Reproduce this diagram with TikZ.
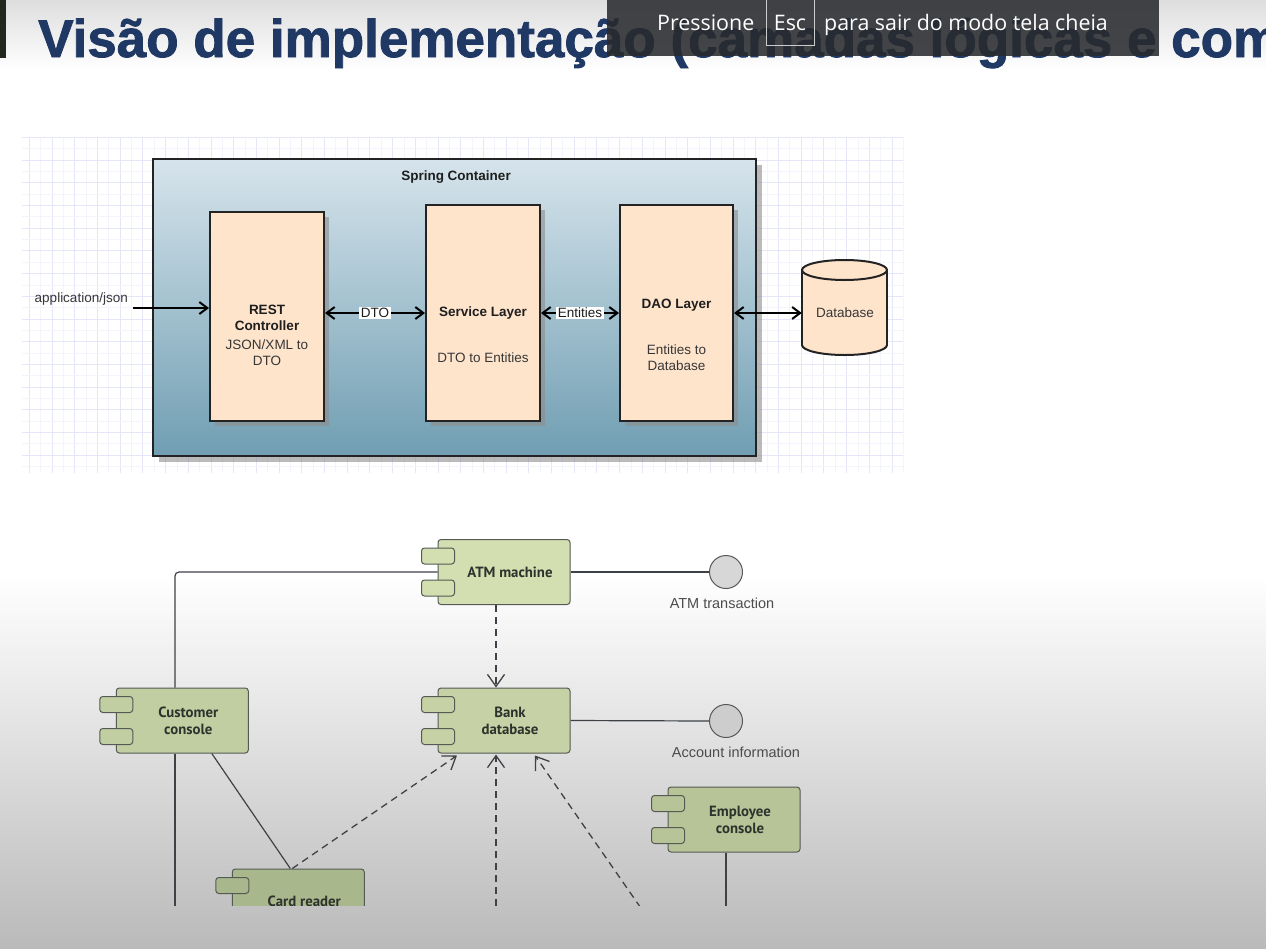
\documentclass[tikz,border=0pt]{standalone}
\usepackage{fontspec}
\setmainfont{Liberation Sans}
\newfontfamily\titlefont[FakeBold=1.6]{Liberation Sans Bold}
\newfontfamily\osfont{Open Sans}
\newfontfamily\ptfont{PT Sans}
\usetikzlibrary{arrows.meta,calc,shadows}
\definecolor{titleblue}{RGB}{31,56,100}
\definecolor{ovl}{RGB}{40,42,46}
\definecolor{gridc}{RGB}{230,230,249}
\definecolor{gridm}{RGB}{244,244,253}
\definecolor{peach}{RGB}{255,228,204}
\definecolor{ctop}{RGB}{214,228,236}
\definecolor{cbot}{RGB}{112,158,178}
\definecolor{edgeD}{RGB}{35,35,35}
\definecolor{txtD}{RGB}{30,30,30}
\definecolor{txtR}{RGB}{55,55,55}
\definecolor{compB}{RGB}{85,90,85}
\definecolor{lineC}{RGB}{62,66,70}
\definecolor{compT}{RGB}{45,50,45}
\definecolor{cATM}{RGB}{211,223,176}
\definecolor{cBank}{RGB}{198,210,165}
\definecolor{cCust}{RGB}{193,206,162}
\definecolor{cEmp}{RGB}{182,196,152}
\definecolor{cCard}{RGB}{169,183,141}
\definecolor{ifA}{RGB}{215,215,215}
\definecolor{ifB}{RGB}{205,205,205}
\definecolor{darkimg}{RGB}{35,40,30}
\definecolor{bgbot}{RGB}{186,186,186}
\definecolor{bgtop}{RGB}{222,222,222}
\newcommand\mkcomp[5]{%
  \node[compbox, fill=#4] (#1) at (#2,#3) {};
  \draw[comptab, fill=#4] ($(#1.north west)+(-16,9)$) rectangle ++(33,16);
  \draw[comptab, fill=#4] ($(#1.north west)+(-16,41)$) rectangle ++(33,16);
  \node[complbl] (#1T) at ($(#1.center)+(6,0)$) {#5};
}
\begin{document}
\begin{tikzpicture}[x=1pt,y=-1pt,
  layerbox/.style={draw=edgeD, line width=2pt, fill=peach, inner sep=0pt,
    drop shadow={shadow xshift=5pt, shadow yshift=-5pt, fill=black!45, opacity=0.6}},
  uarrow/.style={draw=black, line width=2pt, -{Straight Barb[length=8pt,width=12pt]}},
  uarrow2/.style={draw=black, line width=2pt, {Straight Barb[length=8pt,width=12pt]}-{Straight Barb[length=8pt,width=12pt]}},
  ulbl/.style={fill=white, inner sep=1.5pt, font=\fontsize{13.5}{16}\selectfont, text=txtD},
  utb/.style={font=\fontsize{13.5}{16}\selectfont\bfseries, text=txtD, align=center, inner sep=0pt},
  utr/.style={font=\fontsize{13.5}{16}\selectfont, text=txtR, align=center, inner sep=0pt},
  compbox/.style={draw=compB, line width=1pt, rounded corners=3pt, minimum width=132pt, minimum height=65pt, inner sep=0pt},
  comptab/.style={draw=compB, line width=1pt, rounded corners=3pt},
  complbl/.style={font=\ptfont\bfseries\fontsize{14.8}{17}\selectfont, text=compT, align=center, inner sep=0pt},
  iface/.style={circle, draw=compB, line width=1pt, minimum size=33pt, inner sep=0pt},
  iflbl/.style={font=\fontsize{14.5}{17}\selectfont, text=black!70, inner sep=0pt},
  ulink/.style={draw=lineC, line width=1.2pt},
  udep/.style={draw=lineC, line width=1.3pt, dash pattern=on 7pt off 5pt, -{Straight Barb[length=12pt,width=17pt]}},
  ovtext/.style={font=\osfont\fontsize{21.4}{24}\selectfont, text=white, inner sep=0pt}
]
\useasboundingbox (0,0) rectangle (1266,948);
\clip (0,0) rectangle (1266,948);
% background
\fill[white] (0,0) rectangle (1266,948);
\shade[top color=bgtop, bottom color=white] (0,0) rectangle (1266,70);
\shade[top color=white, bottom color=bgbot] (0,575) rectangle (1266,948);
\fill[darkimg] (0,0) rectangle (6,58);
% title
\node[anchor=base west, font=\titlefont\fontsize{53}{60}\selectfont, text=titleblue, inner sep=0pt] (title) at (38,57) {Visão de implementação (camadas lógicas e com};
% overlay
\fill[ovl, opacity=0.87] (607,0) rectangle (1159,56);
\node[anchor=base west, ovtext] (pr) at (657,30) {Pressione};
\node[draw=white!80!black, line width=0.8pt, minimum width=48pt, minimum height=47pt, inner sep=0pt] (escbox) at (790,21.5) {};
\node[anchor=base, ovtext] (esc) at (790,30) {Esc};
\node[anchor=base west, ovtext] (sair) at (824,30) {para sair do modo tela cheia};
% grid
\foreach \i in {0,...,38} {
  \draw[gridm, line width=0.7pt] ({40.65+22.7*\i},137) -- ({40.65+22.7*\i},473);
  \draw[gridc, line width=0.8pt] ({29.3+22.7*\i},137) -- ({29.3+22.7*\i},473);
}
\foreach \j in {0,...,14} {
  \draw[gridm, line width=0.7pt] (22,{148.65+22.7*\j}) -- (903,{148.65+22.7*\j});
  \draw[gridc, line width=0.8pt] (22,{137.3+22.7*\j}) -- (903,{137.3+22.7*\j});
}
% spring container
\node[draw=edgeD, line width=2pt, top color=ctop, bottom color=cbot, minimum width=603pt, minimum height=297pt, inner sep=0pt,
  drop shadow={shadow xshift=6pt, shadow yshift=-6pt, fill=black!45, opacity=0.6}] (cont) at (454.5,307.5) {};
\node[utb] (contT) at (456,177) {Spring Container};
% layers
\node[layerbox, minimum width=114pt, minimum height=209pt] (rest) at (267,316.5) {};
\node[layerbox, minimum width=114pt, minimum height=216pt] (svc) at (483,313) {};
\node[layerbox, minimum width=113pt, minimum height=216pt] (dao) at (676.5,313) {};
\node[utb] (restA) at (267,317.5) {REST\\Controller};
\node[utr] (restB) at (267,353) {JSON/XML to\\DTO};
\node[utb] (svcA) at (483,313) {Service Layer};
\node[utr] (svcB) at (483,358) {DTO to Entities};
\node[utb] (daoA) at (676.5,305) {DAO Layer};
\node[utr] (daoB) at (676.5,358) {Entities to\\Database};
% database cylinder
\node[minimum width=85pt, minimum height=95pt, inner sep=0pt] (db) at (844.5,307.5) {};
\draw[edgeD, line width=2pt, fill=peach] (844.5,345) ellipse [x radius=42.5, y radius=10];
\fill[peach] (802,270) rectangle (887,345);
\draw[edgeD, line width=2pt] (802,270) -- (802,345) (887,270) -- (887,345);
\draw[edgeD, line width=2pt, fill=peach] (844.5,270) ellipse [x radius=42.5, y radius=10];
\node[utr] (dbT) at (845,313) {Database};
% upper arrows
\node[utr, anchor=east] (appl) at (128,299) {application/json};
\coordinate (appin) at (133,308);
\draw[uarrow] (appin) -- (appin -| rest.west);
\draw[uarrow2] (rest.east |- svc.west) -- node[ulbl] (dtoL) {DTO} (svc.west);
\draw[uarrow2] (svc.east) -- node[ulbl] (entL) {Entities} (dao.west);
\draw[uarrow2] (dao.east) -- (dao.east -| db.west);
% lower diagram
\begin{scope}
\clip (0,480) rectangle (1266,905);
\mkcomp{atm}{504}{572}{cATM}{ATM machine}
\mkcomp{bank}{504}{720.5}{cBank}{Bank\\database}
\mkcomp{cust}{182.3}{720.5}{cCust}{Customer\\console}
\mkcomp{emp}{734}{819.5}{cEmp}{Employee\\console}
\mkcomp{card}{298.3}{901.5}{cCard}{Card reader}
\node[iface, fill=ifA] (atx) at (726,572) {};
\node[iflbl] (atxT) at (722,603) {ATM transaction};
\node[iface, fill=ifB] (acc) at (726,721) {};
\node[iflbl] (accT) at (736,752) {Account information};
\draw[ulink] (atm.east) -- (atx.west);
\draw[ulink] (bank.east) -- (acc.west);
\draw[ulink, rounded corners=4pt] (atm.west) -| ([xshift=-7.3pt]cust.north);
\coordinate (custEnd) at (175,930);
\draw[ulink] ([xshift=-7.3pt]cust.south) -- (custEnd);
\draw[ulink] ([xshift=29.5pt]cust.south) -- ([xshift=-8pt]card.north);
\coordinate (empEnd) at (726,930);
\draw[ulink] ([xshift=-8pt]emp.south) -- (empEnd);
\draw[udep] ([xshift=-8pt]atm.south) -- ([xshift=-8pt]bank.north);
\draw[udep] ([xshift=-6pt]card.north) -- ([xshift=-47pt,yshift=-2pt]bank.south);
\coordinate (vbot) at (496,930);
\draw[udep] (vbot) -- ([xshift=-8pt,yshift=-1pt]bank.south);
\coordinate (dbot) at (661,937);
\draw[udep] (dbot) -- ([xshift=31pt,yshift=-2pt]bank.south);
\end{scope}
\end{tikzpicture}
\end{document}
